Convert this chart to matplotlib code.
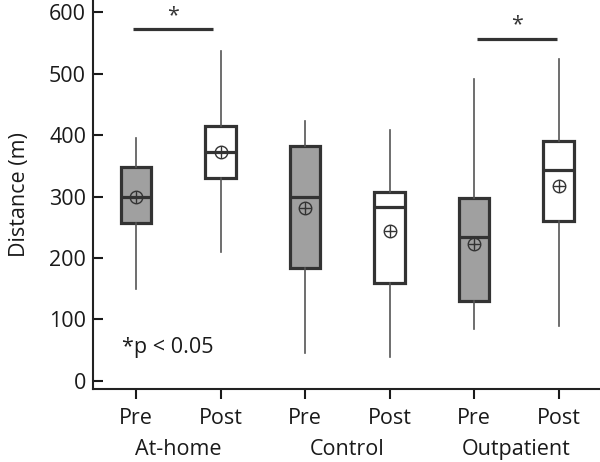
import matplotlib
matplotlib.use("Agg")
import matplotlib.pyplot as plt

plt.rcParams['font.family'] = ['Open Sans', 'DejaVu Sans']

# box statistics
labels = ["Pre", "Post", "Pre", "Post", "Pre", "Post"]
groups = ["At-home", "Control", "Outpatient"]
whislo = [150, 210, 45, 39, 84, 90]
q1 = [257, 330, 183, 159, 130, 261]
med = [299, 372, 300, 283, 234, 343]
q3 = [348, 415, 383, 308, 298, 391]
whishi = [396, 537, 423, 409, 492, 524]
means = [300, 372, 281, 244, 222, 317]
fills = ["#a0a0a0", "white", "#a0a0a0", "white", "#a0a0a0", "white"]

# significance bars: (x start, x end, height)
sig_x0 = [0.96, 5.03]
sig_x1 = [1.91, 5.98]
sig_y = [572, 557]

pos = list(range(1, 7))
fs = 15.5

fig = plt.figure(figsize=(6, 4.62), dpi=100)
ax = fig.add_axes([0.155, 0.157, 0.845, 0.843])

stats = []
for i in range(6):
    stats.append(dict(whislo=whislo[i], q1=q1[i], med=med[i], q3=q3[i],
                      whishi=whishi[i], fliers=[]))

bp = ax.bxp(stats, positions=pos, widths=0.36, patch_artist=True,
            showcaps=False, showfliers=False,
            boxprops=dict(edgecolor="#333333", linewidth=2.3),
            medianprops=dict(color="#333333", linewidth=2.3),
            whiskerprops=dict(color="#555555", linewidth=1.2))
for b, c in zip(bp["boxes"], fills):
    b.set_facecolor(c)

# mean markers (circle with plus)
ax.plot(pos, means, "o", ms=9, mfc="none", mec="#333333", mew=1.0, zorder=5)
ax.plot(pos, means, "+", ms=9, mec="#333333", mew=1.0, zorder=5)

for x0, x1, y in zip(sig_x0, sig_x1, sig_y):
    ax.plot([x0, x1], [y, y], color="#333333", lw=2.3, solid_capstyle="butt")
    ax.text((x0 + x1) / 2, y + 5, "*", ha="center", va="bottom", fontsize=fs, color="#333333")

ax.text(0.83, 55, "*p < 0.05", ha="left", va="center", fontsize=fs, color="#1a1a1a")

ax.set_xlim(0.49, 6.49)
ax.set_ylim(-14, 620)
ax.set_yticks([0, 100, 200, 300, 400, 500, 600])
ax.set_xticks(pos)
ax.set_xticklabels(labels)
ax.tick_params(axis="y", direction="in", length=7, width=1.5, labelsize=fs, colors="#1a1a1a", pad=5)
ax.tick_params(axis="x", direction="out", length=7, width=1.5, labelsize=fs, colors="#1a1a1a", pad=6)

for gi, g in enumerate(groups):
    ax.text(1.5 + 2 * gi, -0.153, g, transform=ax.get_xaxis_transform(),
            ha="center", va="center", fontsize=fs, color="#1a1a1a")

ax.set_ylabel("Distance (m)", fontsize=fs, color="#1a1a1a", labelpad=14)

ax.spines["top"].set_visible(False)
ax.spines["right"].set_visible(False)
ax.spines["left"].set_linewidth(1.5)
ax.spines["bottom"].set_linewidth(1.5)
ax.spines["left"].set_color("#222222")
ax.spines["bottom"].set_color("#222222")

fig.savefig("out.png", dpi=100)
